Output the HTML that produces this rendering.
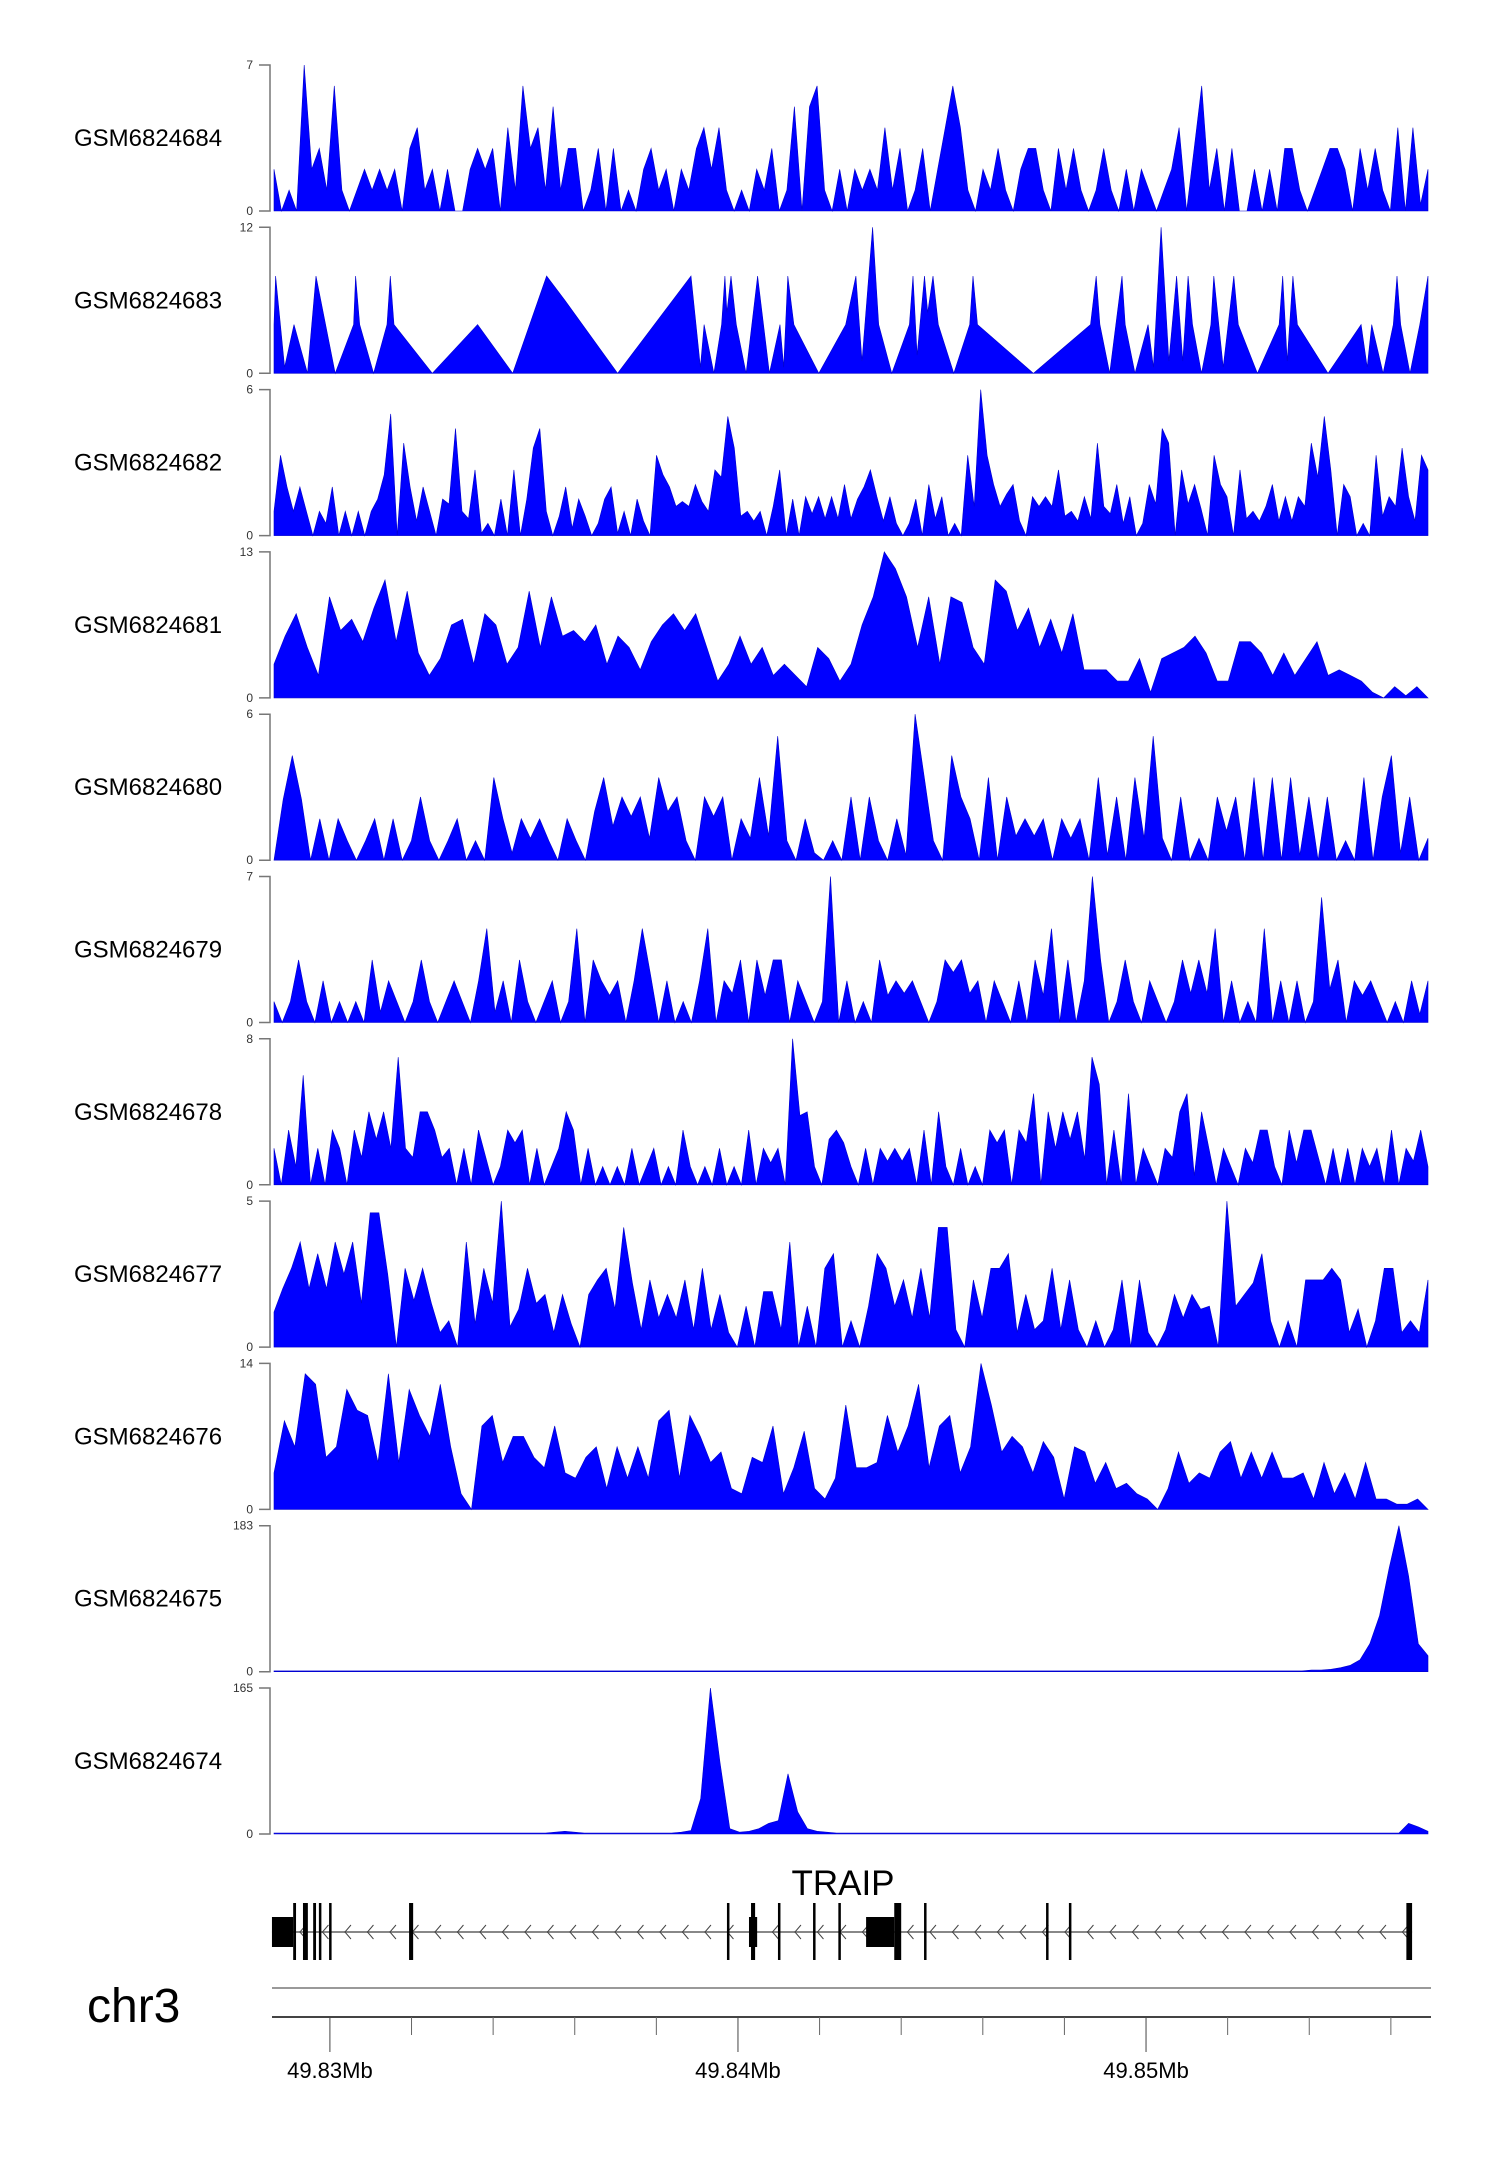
<!DOCTYPE html>
<html><head><meta charset="utf-8"><style>
body{margin:0;background:#fff}
svg{display:block}
text{font-family:"Liberation Sans",sans-serif}
</style></head><body>
<svg id="chart" width="1500" height="2170" viewBox="0 0 1500 2170" xmlns="http://www.w3.org/2000/svg">
<g id="tracks"></g>
<g id="gene"></g>
<g id="axis"></g>
</svg>
<script>
// genome window in kb offset from 49.800 Mb
const domainKb=[28.63,56.91];
const sampleNames=["GSM6824684","GSM6824683","GSM6824682","GSM6824681","GSM6824680","GSM6824679","GSM6824678","GSM6824677","GSM6824676","GSM6824675","GSM6824674"];
const trackMax=[7,12,6,13,6,7,8,5,14,183,165];
const s684=[2,0,1,0,7,2,3,1,6,1,0,1,2,1,2,1,2,0,3,4,1,2,0,2,0,0,2,3,2,3,0,4,1,6,3,4,1,5,1,3,3,0,1,3,0,3,0,1,0,2,3,1,2,0,2,1,3,4,2,4,1,0,1,0,2,1,3,0,1,5,0,5,6,1,0,2,0,2,1,2,1,4,1,3,0,1,3,0,2,4,6,4,1,0,2,1,3,1,0,2,3,3,1,0,3,1,3,1,0,1,3,1,0,2,0,2,1,0,1,2,4,0,3,6,1,3,0,3,0,0,2,0,2,0,3,3,1,0,1,2,3,3,2,0,3,1,3,1,0,4,0,4,0.3,2];
const kb683=[28.63,28.67,28.89,29.12,29.45,29.66,30.13,30.58,30.63,30.73,31.07,31.40,31.48,31.57,32.51,33.62,34.48,35.31,35.76,37.05,38.85,39.08,39.17,39.41,39.60,39.68,39.73,39.83,39.96,40.20,40.48,40.77,41.03,41.12,41.22,41.37,41.98,42.64,42.89,43.04,43.30,43.45,43.77,44.20,44.29,44.39,44.57,44.65,44.78,44.91,45.29,45.68,45.76,45.87,47.24,48.64,48.78,48.87,49.11,49.41,49.49,49.73,50.05,50.18,50.37,50.56,50.75,50.90,51.03,51.14,51.36,51.59,51.66,51.89,52.15,52.26,52.73,53.26,53.35,53.46,53.60,53.71,54.46,55.27,55.42,55.53,55.81,56.06,56.15,56.24,56.47,56.71,56.91];
const s683=[4,8,0.5,4,0,8,0,4,8,4,0,4,8,4,0,4,0,8,6,0,8,0.5,4,0,4,8,5,8,4,0,8,0,4,0.5,8,4,0,4,8,1,12,4,0,4,8,1.5,8,5,8,4,0,4,8,4,0,4,8,4,0,8,4,0,4,0.5,12,1,8,1,8,4,0,4,8,0.5,8,4,0,4,8,1,8,4,0,4,0.5,4,0,4,8,4,0,4,8];
const s682=[1,3.3,2,1,2,1,0,1,0.5,2,0,1,0,1,0,1,1.5,2.5,5,0,3.8,2,0.6,2,1,0,1.5,1.3,4.4,1,0.7,2.7,0.1,0.5,0,1.5,0,2.7,0,1.5,3.6,4.4,1,0,0.8,2,0.3,1.5,0.8,0,0.5,1.5,2,0.1,1,0,1.5,0.6,0,3.3,2.5,2,1.2,1.4,1.2,2.1,1.4,1,2.7,2.4,4.9,3.6,0.8,1,0.6,1,0,1.2,2.7,0,1.5,0,1.6,0.9,1.6,0.7,1.6,0.7,2.1,0.7,1.5,2,2.7,1.6,0.6,1.6,0.5,0,0.5,1.5,0,2.1,0.7,1.6,0,0.5,0,3.3,1.2,6,3.3,2.1,1.2,1.7,2.1,0.6,0,1.6,1.2,1.6,1.2,2.7,0.8,1,0.6,1.6,0.7,3.8,1.2,0.9,2.1,0.5,1.6,0,0.5,2.1,1.3,4.4,3.8,0,2.7,1.3,2.1,1.1,0,3.3,2.1,1.6,0,2.7,0.7,1,0.6,1.2,2.1,0.6,1.6,0.6,1.6,1.2,3.8,2.4,4.9,2.7,0,2.1,1.6,0,0.5,0,3.3,0.8,1.6,1.2,3.6,1.6,0.6,3.3,2.7];
const s681=[3,5.5,7.5,4.5,2,9,6,7,5,8,10.5,5,9.5,4,2,3.5,6.5,7,3,7.5,6.5,3,4.5,9.5,4.5,9,5.5,6,5,6.5,3,5.5,4.5,2.5,5,6.5,7.5,6,7.5,4.5,1.5,3,5.5,3,4.5,2,3,2,1,4.5,3.5,1.5,3,6.5,9,13,11.5,9,4.5,9,3,9,8.5,4.5,3,10.5,9.5,6,8,4.5,7,4,7.5,2.5,2.5,2.5,1.5,1.5,3.5,0.5,3.5,4,4.5,5.5,4,1.5,1.5,5,5,4,2,4,2,3.5,5,2,2.5,2,1.5,0.5,0,1,0.2,1,0];
const s680=[0,2.5,4.3,2.5,0,1.7,0,1.7,0.8,0,0.8,1.7,0,1.7,0,0.8,2.6,0.8,0,0.8,1.7,0,0.8,0,3.4,1.7,0.3,1.7,0.9,1.7,0.8,0,1.7,0.8,0,2,3.4,1.4,2.6,1.8,2.6,0.9,3.4,2,2.6,0.8,0,2.6,1.8,2.6,0,1.7,0.9,3.4,1,5.1,0.8,0,1.7,0.3,0,0.8,0,2.6,0,2.6,0.8,0,1.7,0.2,6,3.4,0.8,0,4.3,2.6,1.7,0,3.4,0,2.6,1,1.7,1,1.7,0,1.7,0.9,1.7,0,3.4,0.2,2.6,0,3.4,0.9,5.1,0.9,0,2.6,0,0.9,0,2.6,1.2,2.6,0,3.4,0,3.4,0,3.4,0.2,2.6,0,2.6,0,0.8,0,3.4,0,2.6,4.3,0.3,2.6,0,0.9];
const s679=[1,0,1,3,1,0,2,0,1,0,1,0,3,0.5,2,1,0,1,3,1,0,1,2,1,0,2,4.5,0.5,2,0,3,1,0,1,2,0,1,4.5,0,3,2,1.3,2,0,2,4.5,2.3,0,2,0,1,0,2,4.5,0,2,1.4,3,0,3,1.3,3,3,0,2,1,0,1,7,0,2,0,1,0,3,1.3,2,1.4,2,1,0,1,3,2.4,3,1.4,2,0,2,1,0,2,0,3,1.3,4.5,0,3,0,2,7,3,0,1,3,1,0,2,1,0,1,3,1.4,3,1.4,4.5,0,2,0,1,0,4.5,0,2,0,2,0,1,6,1.6,3,0,2,1.3,2,1,0,1,0,2,0.4,2];
const s678=[2,0,3,1,6,0,2,0,3,2,0,3,1.5,4,2.5,4,2,7,2,1.5,4,4,3,1.5,2,0,2,0,3,1.5,0,1,3,2.3,3,0,2,0,1,2,4,3,0,2,0,1,0,1,0,2,0,1,2,0,1,0,3,1,0,1,0,2,0,1,0,3,0,2,1.2,2,0,8,3.8,4,1,0,2.5,3,2.3,1,0,2,0,2,1.3,2,1.3,2,0,3,0,4,1,0,2,0,1,0,3,2.3,3,0,3,2.3,5,0,4,2,4,2.5,4,1.4,7,5.5,0,3,0,5,0,2,1,0,2,1.5,4,5,0.5,4,2,0,2,1,0,2,1.2,3,3,1,0,3,1.2,3,3,1.5,0,2,0,2,0,2,1,2,0,3,0,2,1.3,3,1];
const s677=[1.2,2,2.7,3.6,2,3.2,2,3.6,2.5,3.6,1.5,4.6,4.6,2.5,0,2.7,1.6,2.7,1.5,0.5,0.9,0,3.6,0.8,2.7,1.5,5,0.7,1.3,2.7,1.5,1.8,0.5,1.8,0.8,0,1.8,2.3,2.7,1.3,4.1,2.2,0.6,2.3,1,1.8,1,2.3,0.6,2.7,0.6,1.8,0.5,0,1.4,0,1.9,1.9,0.6,3.6,0,1.4,0,2.7,3.2,0,0.9,0,1.4,3.2,2.7,1.4,2.3,1,2.7,1,4.1,4.1,0.6,0,2.3,1,2.7,2.7,3.2,0.5,1.8,0.6,0.9,2.7,0.6,2.3,0.6,0,0.9,0,0.6,2.3,0,2.3,0.5,0,0.6,1.8,1,1.8,1.3,1.4,0,5,1.4,1.8,2.2,3.2,0.9,0,0.9,0,2.3,2.3,2.3,2.7,2.3,0.5,1.3,0,0.9,2.7,2.7,0.5,0.9,0.5,2.3];
const s676=[3.5,8.5,6,13,12,5,6,11.5,9.5,9,4.5,13,4.5,11.5,9,7,12,6,1.5,0,8,9,4.5,7,7,5,4,8,3.5,3,5,6,2,6,3,6,3,8.5,9.5,3,9,7,4.5,5.5,2,1.5,5,4.5,8,1.5,4,7.5,2,1,3,10,4,4,4.5,9,5.5,8,12,4,8,9,3.5,6,14,10,5.5,7,6,3.5,6.5,5,1,6,5.5,2.5,4.5,2,2.5,1.5,1,0,2,5.5,2.5,3.5,3,5.5,6.5,3,5.5,3,5.5,3,3,3.5,1,4.5,1.5,3.5,1,4.5,1,1,0.5,0.5,1,0];
const s675=[1,1,1,1,1,1,1,1,1,1,1,1,1,1,1,1,1,1,1,1,1,1,1,1,1,1,1,1,1,1,1,1,1,1,1,1,1,1,1,1,1,1,1,1,1,1,1,1,1,1,1,1,1,1,1,1,1,1,1,1,1,1,1,1,1,1,1,1,1,1,1,1,1,1,1,1,1,1,1,1,1,1,1,1,1,1,1,1,1,1,1,1,1,1,1,1,1,1,1,1,1,1,1,1,1,1,1,2,2,3,5,8,15,35,70,130,183,120,35,20];
const s674=[1,1,1,1,1,1,1,1,1,1,1,1,1,1,1,1,1,1,1,1,1,1,1,1,1,1,1,1,1,2,3,2,1,1,1,1,1,1,1,1,1,1,2,4,40,165,80,6,2,3,6,12,15,68,25,6,3,2,1,1,1,1,1,1,1,1,1,1,1,1,1,1,1,1,1,1,1,1,1,1,1,1,1,1,1,1,1,1,1,1,1,1,1,1,1,1,1,1,1,1,1,1,1,1,1,1,1,1,1,1,1,1,1,1,1,1,1,12,8,3];
const seriesVals=[s684,s683,s682,s681,s680,s679,s678,s677,s676,s675,s674];
const seriesPos=[null,kb683,null,null,null,null,null,null,null,null,null];
// gene model (kb offsets)
const thickExons=[[28.58,29.10],[40.27,40.47],[43.14,43.83]];
const tallExons=[[29.10,29.17],[29.34,29.46],[29.59,29.66],[29.73,29.78],[29.98,30.03],[31.94,32.04],[39.73,39.78],[40.32,40.42],[40.98,41.03],[41.84,41.89],[42.46,42.50],[43.83,44.00],[44.56,44.61],[47.55,47.60],[48.11,48.16],[56.38,56.52]];
const geneSpan=[28.58,56.52];
const majorTicks=[30,40,50];
const majorLabels=["49.83Mb","49.84Mb","49.85Mb"];
const minorTicks=[32,34,36,38,42,44,46,48,52,54,56];

const NS="http://www.w3.org/2000/svg";
const X0=274,X1=1428;
function x(kb){return X0+(kb-domainKb[0])/(domainKb[1]-domainKb[0])*(X1-X0);}
function mk(tag,attrs,parent){const e=document.createElementNS(NS,tag);for(const k in attrs)e.setAttribute(k,attrs[k]);parent.appendChild(e);return e;}

const tg=document.getElementById('tracks');
const TOP=65,PITCH=162.3,H=146;
sampleNames.forEach((nm,i)=>{
  const top=TOP+PITCH*i,base=top+H,max=trackMax[i];
  const g=mk('g',{},tg);
  
  
  const y=v=>base-v/max*H;
  const lab=mk('text',{x:74,y:top+H/2+8,'font-size':24,fill:'#000'},g);
  lab.textContent=nm;
  
  
  const ax=mk('path',{d:`M259 ${top}H270V${base}H259`,stroke:'#777',fill:'none','stroke-width':1.5},g);
  
  
  const t1=mk('text',{x:253,y:top+4,'font-size':12,'text-anchor':'end',fill:'#333'},g);
  t1.textContent=String(max);
  
  
  const t0=mk('text',{x:253,y:base+4,'font-size':12,'text-anchor':'end',fill:'#333'},g);
  t0.textContent='0';
  
  
  const vals=seriesVals[i],pos=seriesPos[i],n=vals.length;
  let pts=[];
  vals.forEach((v,j)=>{
    const kb=pos?pos[j]:domainKb[0]+j/(n-1)*(domainKb[1]-domainKb[0]);
    pts.push(x(kb).toFixed(1)+','+y(v).toFixed(1));
  });
  const px0=pos?x(pos[0]):X0,px1=pos?x(pos[n-1]):X1;
  const poly=mk('polygon',{points:px0+','+base+' '+pts.join(' ')+' '+px1+','+base,fill:'#0000FF',stroke:'#0000CC','stroke-width':0.6},g);
  
  
});

// gene
const gg=document.getElementById('gene');
const GY=1932;
const gl=mk('line',{x1:x(geneSpan[0]),x2:x(geneSpan[1]),y1:GY,y2:GY,stroke:'#888','stroke-width':2},gg);


for(let ax=x(geneSpan[0])+30;ax<x(geneSpan[1])-5;ax+=22.5){
  const c=mk('path',{d:`M${ax+4} ${GY-7}L${ax-2} ${GY}L${ax+4} ${GY+7}`,stroke:'#444',fill:'none','stroke-width':1},gg);
  
  
}
thickExons.forEach(e=>{
  const r=mk('rect',{x:x(e[0]),y:1917,width:x(e[1])-x(e[0]),height:30,fill:'#000'},gg);
  
  
});
tallExons.forEach(e=>{
  const r=mk('rect',{x:x(e[0]),y:1903,width:Math.max(2.5,x(e[1])-x(e[0])),height:57,fill:'#000'},gg);
  
  
});
const gt=mk('text',{x:843,y:1895,'font-size':35,'text-anchor':'middle',fill:'#000'},gg);
gt.textContent='TRAIP';



// axis
const ag=document.getElementById('axis');
const ct=mk('text',{x:87,y:2022,'font-size':48,fill:'#000'},ag);
ct.textContent='chr3';


const l1=mk('line',{x1:272,x2:1431,y1:1988,y2:1988,stroke:'#999','stroke-width':2},ag);


const l2=mk('line',{x1:272,x2:1431,y1:2017,y2:2017,stroke:'#444','stroke-width':2},ag);


minorTicks.forEach(t=>{
  const l=mk('line',{x1:x(t),x2:x(t),y1:2017,y2:2035,stroke:'#666','stroke-width':1},ag);
  
  
});
majorTicks.forEach((t,i)=>{
  const l=mk('line',{x1:x(t),x2:x(t),y1:2017,y2:2052,stroke:'#444','stroke-width':1},ag);
  
  
  const tx=mk('text',{x:x(t),y:2078,'font-size':22,'text-anchor':'middle',fill:'#000'},ag);
  tx.textContent=majorLabels[i];
  
  
});
</script>
</body></html>
